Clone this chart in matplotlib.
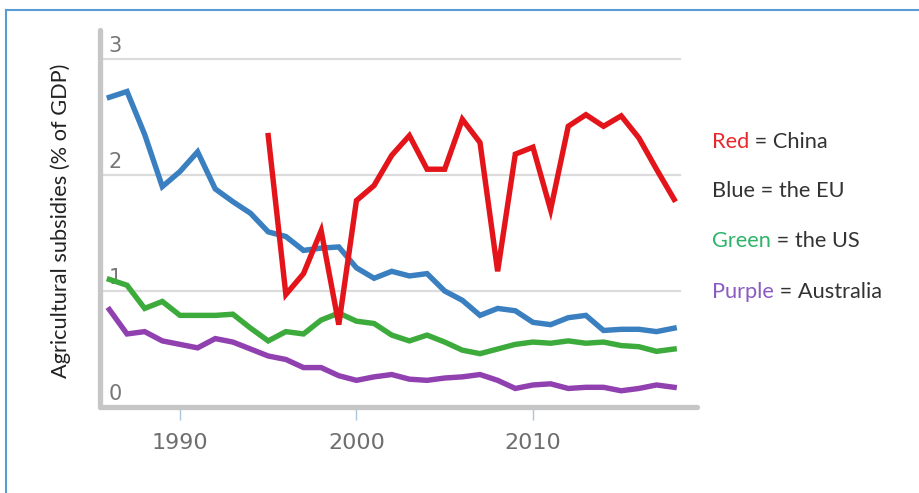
import matplotlib
matplotlib.use("Agg")
import matplotlib.pyplot as plt
import matplotlib.transforms as mtransforms
from matplotlib.lines import Line2D

years = list(range(1986, 2019))
china_years = list(range(1995, 2019))

china = [2.34, 0.97, 1.15, 1.52, 0.71, 1.78, 1.91, 2.17, 2.34, 2.05, 2.05, 2.48,
         2.28, 1.17, 2.18, 2.24, 1.70, 2.42, 2.52, 2.42, 2.51, 2.32, 2.05, 1.79]
eu = [2.67, 2.72, 2.35, 1.90, 2.03, 2.20, 1.88, 1.77, 1.67, 1.51, 1.47, 1.35,
      1.37, 1.38, 1.20, 1.11, 1.17, 1.13, 1.15, 1.00, 0.92, 0.79, 0.85, 0.83,
      0.73, 0.71, 0.77, 0.79, 0.66, 0.67, 0.67, 0.65, 0.68]
us = [1.10, 1.05, 0.85, 0.91, 0.79, 0.79, 0.79, 0.80, 0.68, 0.57, 0.65, 0.63,
      0.75, 0.81, 0.74, 0.72, 0.62, 0.57, 0.62, 0.56, 0.49, 0.46, 0.50, 0.54,
      0.56, 0.55, 0.57, 0.55, 0.56, 0.53, 0.52, 0.48, 0.50]
australia = [0.84, 0.63, 0.65, 0.57, 0.54, 0.51, 0.59, 0.56, 0.50, 0.44, 0.41,
             0.34, 0.34, 0.27, 0.23, 0.26, 0.28, 0.24, 0.23, 0.25, 0.26, 0.28,
             0.23, 0.16, 0.19, 0.20, 0.16, 0.17, 0.17, 0.14, 0.16, 0.19, 0.17]

x_ticks = [1990, 2000, 2010]
y_ticks = [0, 1, 2, 3]

legend_items = [("Red", " = China", "#e8272d"),
                ("Blue", " = the EU", "#333333"),
                ("Green", " = the US", "#2eb36a"),
                ("Purple", " = Australia", "#8a5cc2")]

tick_font = ["DejaVu Sans"]
text_font = ["Lato", "DejaVu Sans"]

fig = plt.figure(figsize=(9.2, 4.93), dpi=100)
ax = fig.add_axes([0.1087, 0.1744, 0.649, 0.7647])

lw = 3.9
ax.plot(years, eu, color="#3a7fc0", lw=lw, solid_joinstyle="miter")
ax.plot(years, us, color="#3cab3c", lw=lw, solid_joinstyle="miter")
ax.plot(years, australia, color="#9140b0", lw=lw, solid_joinstyle="miter")
ax.plot(china_years, china, color="#e3151b", lw=lw, solid_joinstyle="miter")

ax.set_xlim(1985.47, 2019.3)
ax.set_ylim(0.026, 3.25)

# grid lines stop a bit before the end of the x axis
for y in y_ticks[1:]:
    ax.axhline(y, xmin=0, xmax=0.9715, color="#dcdcdc", lw=1.6, zorder=0)

for side in ["top", "right"]:
    ax.spines[side].set_visible(False)
for side in ["left", "bottom"]:
    ax.spines[side].set_color("#c6c6c6")
    ax.spines[side].set_linewidth(3.8)
    ax.spines[side].set_capstyle("round")

ax.set_xticks(x_ticks)
ax.set_xticklabels([str(t) for t in x_ticks], family=tick_font, fontsize=16,
                   color="#6e6e6e")
ax.tick_params(axis="x", length=9, width=1, color="#aac4de", pad=10)

ax.set_yticks(y_ticks)
ax.set_yticklabels([str(t) for t in y_ticks], family=tick_font, fontsize=15,
                   color="#777777")
ax.tick_params(axis="y", length=0, pad=-6)
offset = mtransforms.ScaledTranslation(0, 2.5 / 72, fig.dpi_scale_trans)
for lab in ax.get_yticklabels():
    lab.set_horizontalalignment("left")
    lab.set_verticalalignment("bottom")
    lab.set_transform(lab.get_transform() + offset)

fig.text(0.0663, 0.552, "Agricultural subsidies (% of GDP)", rotation=90,
         ha="center", va="center", family=text_font, fontsize=15.7,
         color="#222222")

legend_y = [0.712, 0.6126, 0.511, 0.408]
for (word, rest, col), ly in zip(legend_items, legend_y):
    t = fig.text(0.774, ly, word, color=col, family=text_font, fontsize=15.7,
                 va="center", ha="left")
    ax.annotate(rest, xy=(1, 0), xycoords=t, va="bottom", ha="left",
                color="#333333", family=text_font, fontsize=15.7,
                annotation_clip=False)

# blue frame around the picture
fig.add_artist(Line2D([0.0065, 1.0], [0.9797, 0.9797], color="#5b9bd5", lw=1.5))
fig.add_artist(Line2D([0.0065, 0.0065], [0.0, 0.9797], color="#5b9bd5", lw=1.5))

fig.savefig("out.png", dpi=100)
